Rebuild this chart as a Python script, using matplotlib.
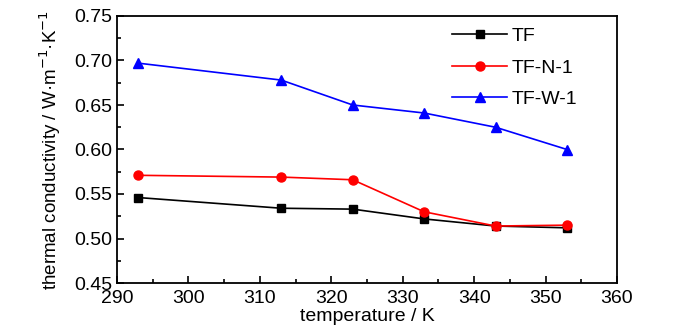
import numpy as np
import matplotlib
matplotlib.use("Agg")
import matplotlib.pyplot as plt
from matplotlib.ticker import MultipleLocator

plt.rcParams['font.family'] = ['Liberation Sans', 'DejaVu Sans']

# temperature (K) and thermal conductivity values
temperature = [293, 313, 323, 333, 343, 353]
tf = [0.546, 0.534, 0.533, 0.522, 0.514, 0.512]
tf_n1 = [0.571, 0.569, 0.566, 0.530, 0.514, 0.515]
tf_w1 = [0.697, 0.678, 0.650, 0.641, 0.625, 0.600]

fig = plt.figure(figsize=(7, 3.33), dpi=100)
ax = fig.add_axes([117/700, 1 - 283/333, 500/700, 267/333])

ax.plot(temperature, tf, 'k-s', ms=5.5, lw=1.2, label="TF")
ax.plot(temperature, tf_n1, 'r-o', ms=6.5, lw=1.2, label="TF-N-1")
ax.plot(temperature, tf_w1, 'b-^', ms=7.5, lw=1.2, label="TF-W-1")

ax.set_xlim(290, 360)
ax.set_ylim(0.45, 0.75)
ax.xaxis.set_major_locator(MultipleLocator(10))
ax.xaxis.set_minor_locator(MultipleLocator(5))
ax.yaxis.set_major_locator(MultipleLocator(0.05))
ax.yaxis.set_minor_locator(MultipleLocator(0.025))
ax.yaxis.set_major_formatter(plt.FormatStrFormatter('%.2f'))
ax.tick_params(which='both', direction='in', labelsize=14, width=1.2)
ax.tick_params(which='major', length=5)
ax.tick_params(axis='x', which='major', pad=5)
ax.tick_params(which='minor', length=3)
for s in ax.spines.values():
    s.set_linewidth(1.3)

ax.set_xlabel("temperature / K", fontsize=14, labelpad=0.5)
ax.set_ylabel("thermal conductivity / W·m$^{-1}$·K$^{-1}$", fontsize=13.5, labelpad=8)

ax.legend(loc='upper right', frameon=False, fontsize=14, handlelength=2.8,
          handletextpad=0.25, borderaxespad=0.2, labelspacing=0.7,
          bbox_to_anchor=(0.944, 1.0))

fig.savefig("out.png", dpi=100)
